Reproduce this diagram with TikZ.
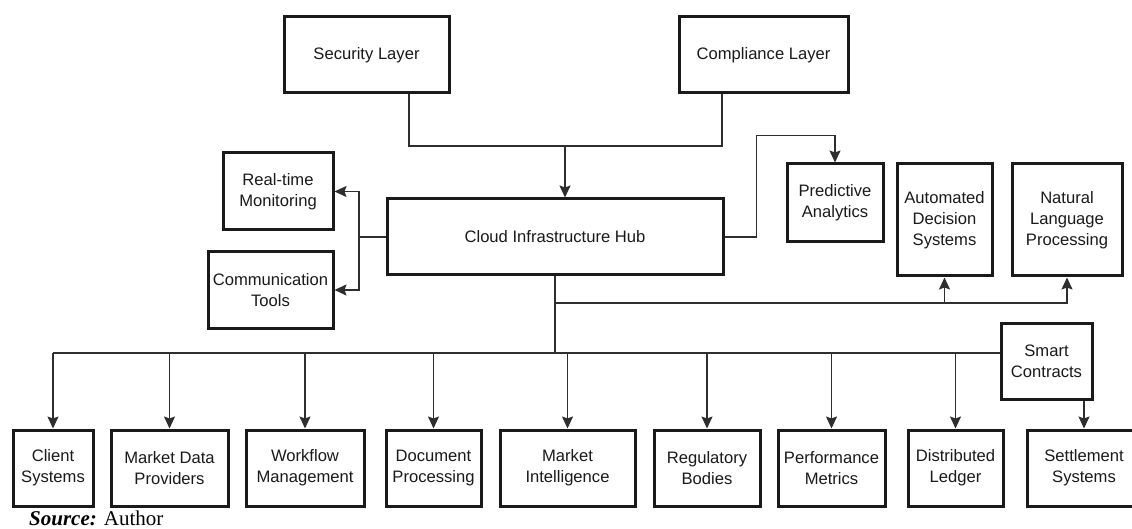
\documentclass[tikz,border=0pt]{standalone}
\usepackage{fontspec}
\setmainfont{Liberation Sans}
\newfontfamily\srcfont{Liberation Serif}
\usetikzlibrary{arrows.meta,calc}
\definecolor{boxline}{HTML}{1A1A1A}
\definecolor{wireline}{HTML}{2E2E2E}
\definecolor{labeltext}{HTML}{1A1A1A}

\begin{document}
\begin{tikzpicture}[x=1pt,y=-1pt,
  box/.style={draw=boxline, line width=3pt, fill=white, inner sep=0pt,
    align=center, text=labeltext, font=\fontsize{16.6}{21}\selectfont},
  wire/.style={draw=wireline, line width=1.5pt},
  arr/.style={wire, -{Stealth[length=12pt,width=11pt,inset=2pt]}},
]
% canvas
\fill[white] (0,0) rectangle (1132,529);
\useasboundingbox (0,0) rectangle (1132,529);

% upper layers
\node[box, minimum width=165pt, minimum height=76pt] (sec) at (366.5,55) {Security Layer};
\node[box, minimum width=169pt, minimum height=76pt] (cmp) at (763.5,55) {Compliance Layer};

% hub and its side services
\node[box, minimum width=336pt, minimum height=76pt] (hub) at (555,237) {Cloud Infrastructure Hub};
\node[box, minimum width=110pt, minimum height=77pt] (rt) at (278,191.5) {Real-time\\Monitoring};
\node[box, minimum width=125pt, minimum height=76pt] (comm) at (270.5,290) {Communication\\Tools};
\node[box, minimum width=96pt, minimum height=78pt] (pa) at (835,203) {Predictive\\Analytics};
\node[box, minimum width=95pt, minimum height=112pt] (ads) at (944.5,220) {Automated\\Decision\\Systems};
\node[box, minimum width=110pt, minimum height=112pt] (nlp) at (1067,220) {Natural\\Language\\Processing};
\node[box, minimum width=91pt, minimum height=76pt] (sc) at (1046.5,361) {Smart\\Contracts};

% bottom row
\node[box, minimum width=80pt,  minimum height=76pt] (cl)   at (53,468)    {Client\\Systems};
\node[box, minimum width=117pt, minimum height=76pt] (md)   at (169.5,468) {Market Data\\Providers};
\node[box, minimum width=118pt, minimum height=76pt] (wf)   at (305,468)   {Workflow\\Management};
\node[box, minimum width=95pt,  minimum height=76pt] (doc)  at (433.5,468) {Document\\Processing};
\node[box, minimum width=135pt, minimum height=76pt] (mi)   at (567.5,468) {Market\\Intelligence};
\node[box, minimum width=106pt, minimum height=76pt] (reg)  at (707,468)   {Regulatory\\Bodies};
\node[box, minimum width=107pt, minimum height=76pt] (perf) at (831.5,468) {Performance\\Metrics};
\node[box, minimum width=95pt,  minimum height=76pt] (dist) at (955.5,468) {Distributed\\Ledger};
\node[box, minimum width=114pt, minimum height=76pt] (st)   at (1084,468)  {Settlement\\Systems};

% junction points
\coordinate (jt) at (565,146);
\coordinate (jl) at (359,237);
\coordinate (jm) at (555,303);
\coordinate (jb) at (555,353);

% layers into the hub
\draw[wire] ([xshift=42.5pt]sec.south) |- (jt);
\draw[wire] ([xshift=-41.5pt]cmp.south) |- (jt);
\draw[arr] (jt) -- (jt |- hub.north);

% left branch
\draw[wire] (hub.west) -- (jl);
\draw[arr] (jl) |- (rt.east);
\draw[arr] (jl) |- (comm.east);

% right branch to analytics
\draw[arr] (hub.east) -- ++(32,0) |- ([yshift=27pt]pa.north) -- (pa.north);

% downward trunk
\draw[wire] (hub.south) -- (jb);
\draw[arr] (jm) -| (ads.south);
\draw[arr] (jm) -| (nlp.south);

% distribution bus
\draw[wire] (cl.north |- jb) -- (sc.west |- jb);
\foreach \n in {cl,md,wf,doc,mi,reg,perf,dist}
  \draw[arr] (\n.north |- jb) -- (\n.north);
\draw[arr] (sc.south -| st.north) -- (st.north);

% caption
\node[anchor=base west, inner sep=0pt, font=\srcfont\fontsize{21}{24}\selectfont] (src) at (29,525)
  {\textbf{\textit{Source:}} Author};
\end{tikzpicture}
\end{document}
